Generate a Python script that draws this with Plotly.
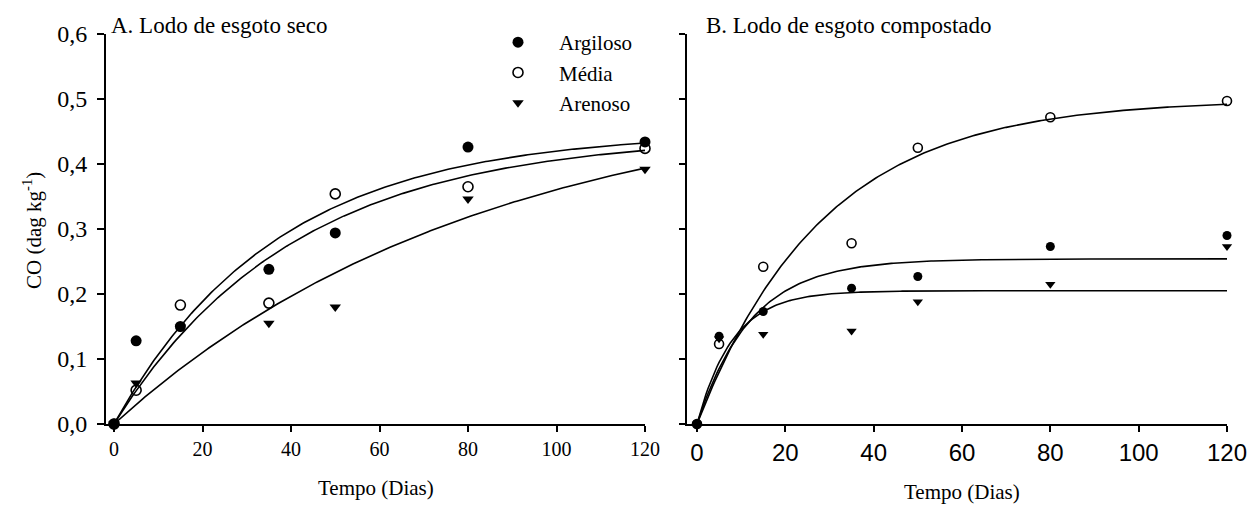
import numpy as np
import plotly.graph_objects as go

W, H = 1249, 505

# Sampling days
dias = [0, 5, 15, 35, 50, 80, 120]

# A. Lodo de esgoto seco
a_argiloso = [0.0, 0.128, 0.150, 0.238, 0.294, 0.426, 0.434]
a_media = [0.0, 0.052, 0.183, 0.186, 0.354, 0.365, 0.424]
a_arenoso = [0.0, 0.063, 0.149, 0.155, 0.180, 0.346, 0.392]

# B. Lodo de esgoto compostado
b_argiloso = [0.0, 0.135, 0.173, 0.209, 0.227, 0.273, 0.290]
b_media = [0.0, 0.123, 0.242, 0.278, 0.425, 0.472, 0.497]
b_arenoso = [0.0, 0.131, 0.138, 0.143, 0.188, 0.215, 0.273]

# Fitted model CO = C0 * (1 - exp(-k t)) : [C0, k] per soil
fit_a = {"Argiloso": [0.4495, 0.0272], "Média": [0.4445, 0.0245], "Arenoso": [0.516, 0.0120]}
fit_b = {"Argiloso": [0.254, 0.0818], "Média": [0.4995, 0.0350], "Arenoso": [0.205, 0.124]}

x_ticks = [0, 20, 40, 60, 80, 100, 120]
x_ticktext = ["0", "20", "40", "60", "80", "100", "120"]
y_ticks = [0.0, 0.1, 0.2, 0.3, 0.4, 0.5, 0.6]
y_ticktext = ["0,0", "0,1", "0,2", "0,3", "0,4", "0,5", "0,6"]

SERIF = "Liberation Serif"
SANS = "Liberation Sans"


def px_x(p):
    return p / W


def px_y(p):
    return 1 - p / H


fig = go.Figure()

t = np.linspace(0, 120, 241)


def model(params):
    c0, k = params
    return c0 * (1 - np.exp(-k * t))


for name, params in fit_a.items():
    fig.add_trace(go.Scatter(x=t, y=model(params), mode="lines", xaxis="x", yaxis="y",
                             line=dict(color="black", width=1.6), showlegend=False,
                             hoverinfo="skip"))
for name, params in fit_b.items():
    fig.add_trace(go.Scatter(x=t, y=model(params), mode="lines", xaxis="x2", yaxis="y2",
                             line=dict(color="black", width=1.6), showlegend=False,
                             hoverinfo="skip"))

nb = "\u00a0" * 4
styles_a = [
    ("Argiloso", a_argiloso, dict(symbol="circle", size=11, color="black")),
    ("Média", a_media, dict(symbol="circle-open", size=10, color="black", line=dict(width=1.6, color="black"))),
    ("Arenoso", a_arenoso, dict(symbol="triangle-down", size=10, color="black")),
]
for name, ys, mk in styles_a:
    fig.add_trace(go.Scatter(x=dias, y=ys, mode="markers", xaxis="x", yaxis="y",
                             marker=mk, name=nb + name, showlegend=True, cliponaxis=False))

styles_b = [
    ("Argiloso", b_argiloso, dict(symbol="circle", size=9, color="black")),
    ("Média", b_media, dict(symbol="circle-open", size=9, color="black", line=dict(width=1.6, color="black"))),
    ("Arenoso", b_arenoso, dict(symbol="triangle-down", size=9, color="black")),
]
for name, ys, mk in styles_b:
    fig.add_trace(go.Scatter(x=dias, y=ys, mode="markers", xaxis="x2", yaxis="y2",
                             marker=mk, name=name, showlegend=False, cliponaxis=False))

ydom = [px_y(424), px_y(34)]

axis_common = dict(showline=True, linecolor="black", linewidth=2, showgrid=False, zeroline=False,
                   ticks="outside", tickcolor="black", tickwidth=1.5, mirror=False, automargin=False)

fig.update_layout(
    width=W, height=H,
    margin=dict(l=0, r=0, t=0, b=0),
    paper_bgcolor="white", plot_bgcolor="white",
    font=dict(family=SERIF, color="black"),
    xaxis=dict(domain=[px_x(106), px_x(645)], range=[-1.81, 120], tickvals=x_ticks, ticktext=x_ticktext,
               ticklen=6, tickfont=dict(family=SERIF, size=20), anchor="y", **axis_common),
    yaxis=dict(domain=ydom, range=[0, 0.6], tickvals=y_ticks, ticktext=y_ticktext,
               ticklen=7, tickfont=dict(family=SERIF, size=24), anchor="x", ticklabelstandoff=5,
               **axis_common),
    xaxis2=dict(domain=[px_x(687), px_x(1227)], range=[-2.26, 120], tickvals=x_ticks, ticktext=x_ticktext,
                ticklen=6, tickfont=dict(family=SANS, size=24), anchor="y2", **axis_common),
    yaxis2=dict(domain=ydom, range=[0, 0.6], tickvals=y_ticks, showticklabels=False,
                ticklen=6, anchor="x2", **axis_common),
    legend=dict(x=px_x(498), y=px_y(22), xanchor="left", yanchor="top",
                font=dict(family=SERIF, size=21, color="black"), bgcolor="rgba(0,0,0,0)",
                tracegroupgap=0, itemsizing="trace"),
    showlegend=True,
)

annotations = [
    dict(text="A. Lodo de esgoto seco", x=px_x(109), y=px_y(25), xanchor="left", yanchor="middle",
         font=dict(family=SERIF, size=23)),
    dict(text="B. Lodo de esgoto compostado", x=px_x(704), y=px_y(25), xanchor="left", yanchor="middle",
         font=dict(family=SERIF, size=23)),
    dict(text="Tempo (Dias)", x=px_x(376), y=px_y(488), xanchor="center", yanchor="middle",
         font=dict(family=SERIF, size=21)),
    dict(text="Tempo (Dias)", x=px_x(962), y=px_y(492), xanchor="center", yanchor="middle",
         font=dict(family=SERIF, size=21), borderpad=0),
    dict(text="CO (dag kg<sup>-1</sup>)", x=px_x(33), y=px_y(231), xanchor="center", yanchor="middle",
         textangle=-90, font=dict(family=SERIF, size=21)),
]
for a in annotations:
    fig.add_annotation(xref="paper", yref="paper", showarrow=False, **a)

fig.write_html("out.html")
